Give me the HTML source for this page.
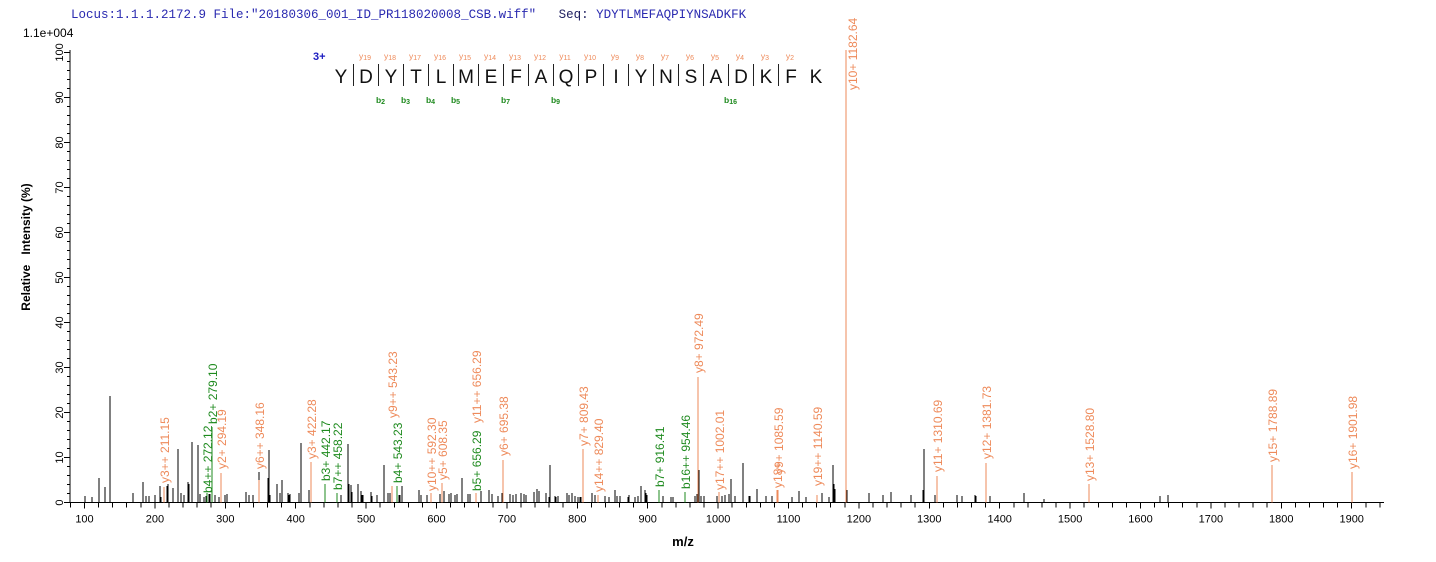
<!DOCTYPE html>
<html><head><meta charset="utf-8"><style>
body{margin:0;background:#fff;}
svg{display:block;font-family:"Liberation Sans",Arial,sans-serif;}
line{shape-rendering:crispEdges;}
</style></head><body>
<svg id="s" width="1436" height="562" xmlns="http://www.w3.org/2000/svg">
<text x="71" y="18" font-family="Liberation Mono,monospace" font-size="12.5" fill="#2a2ab0" xml:space="preserve">Locus:1.1.1.2172.9 File:"20180306_001_ID_PR118020008_CSB.wiff"   <tspan fill="#202060">Seq:</tspan> YDYTLMEFAQPIYNSADKFK</text>
<text x="23" y="37" font-size="12" fill="#000">1.1e+004</text>
<text transform="translate(30,247) rotate(-90)" text-anchor="middle" font-size="12" font-weight="bold" xml:space="preserve">Relative   Intensity (%)</text>
<text x="683" y="546" text-anchor="middle" font-size="13" font-weight="bold">m/z</text>
<g id="g"></g>
</svg>
<script>
var g=document.getElementById('g'),h='';
var B=502.5;
function L(x1,y1,x2,y2,c,w){h+='<line x1="'+x1+'" y1="'+y1+'" x2="'+x2+'" y2="'+y2+'" stroke="'+c+'" stroke-width="'+(w||1)+'"/>';}
L(70,50,70,B,'#000');L(70,B,1384,B,'#000');
for(var p=0;p<=100;p+=2){var y=B-p*4.5;L(p%10==0?64:67,y,70,y,'#000');
 if(p%10==0)h+='<text transform="translate(63,'+y+') rotate(-90)" text-anchor="middle" font-size="11">'+p+'</text>';}
function X(m){return 1351.7-(1900-m)*0.704;}
for(var m=80;m<=1940;m+=20){var x=X(m);L(x,B,x,B+(m%100==0?6:5),'#000');
 if(m%100==0&&m>=100)h+='<text x="'+x+'" y="'+(B+20)+'" text-anchor="middle" font-size="11">'+m+'</text>';}
var k=[[85,496],[92,497],[99,478],[105,487],[110,396],[133,493],[143,482],[146,496],[149,496],[155,495],[160,486],[161,497],[167,486],[168,484],[173,488],[178,449],[181,493],[184,495],[188,482],[189,484],[189,492],[192,442],[198,445],[200,494],[204,497],[206,496],[207,495],[209,494],[210,494],[215,495],[219,497],[225,495],[227,494],[246,492],[249,495],[253,495],[259,472],[268,478],[269,450],[270,495],[277,484],[280,493],[282,480],[288,493],[289,495],[290,494],[299,493],[301,443],[309,490],[341,495],[348,444],[349,484],[351,485],[352,492],[358,484],[361,491],[362,495],[363,495],[371,492],[372,496],[377,495],[384,465],[388,493],[390,493],[397,488],[399,495],[400,495],[402,486],[419,490],[421,495],[427,495],[440,494],[442,487],[444,491],[449,494],[451,493],[455,495],[457,494],[462,478],[468,494],[470,494],[481,491],[489,490],[492,494],[498,496],[502,493],[510,494],[513,495],[516,494],[521,493],[524,494],[526,495],[534,492],[537,489],[539,491],[546,493],[549,497],[550,465],[555,496],[556,497],[558,496],[567,493],[569,495],[572,493],[575,496],[578,497],[580,497],[581,497],[592,493],[595,495],[605,496],[609,497],[615,490],[617,496],[620,496],[628,497],[629,496],[629,495],[635,497],[638,496],[641,486],[645,490],[646,493],[647,495],[663,496],[671,497],[673,497],[695,496],[697,494],[699,470],[701,496],[704,496],[717,496],[722,496],[725,495],[729,494],[731,479],[735,496],[743,463],[749,496],[750,496],[757,489],[766,496],[772,496],[777,490],[792,497],[799,491],[806,497],[822,493],[829,497],[833,465],[834,484],[835,489],[847,490],[869,493],[883,495],[891,492],[911,495],[923,490],[924,449],[935,495],[957,495],[962,496],[975,495],[976,496],[990,496],[1024,493],[1044,499],[1160,496],[1168,495]];
k.forEach(function(a){L(a[0],B,a[0],a[1],'#000');});
var O='#ee8a5a',G='#1e8a1e';
var q=[[164,487,'y3++ 211.15',O,483],[207,493,'b4++ 272.12',G,493],[212,427,'b2+ 279.10',G,424],[221,473,'y2+ 294.19',O,469],[259,480,'y6++ 348.16',O,469],[311,462,'y3+ 422.28',O,459],[325,484,'b3+ 442.17',G,481],[337,493,'b7++ 458.22',G,490],[397,486,'b4+ 543.23',G,483],[392,486,'y9++ 543.23',O,418],[431,493,'y10++ 592.30',O,491],[442,483,'y5+ 608.35',O,480],[476,493,'b5+ 656.29',G,491],[476,493,'y11++ 656.29',O,423],[503,460,'y6+ 695.38',O,456],[583,449,'y7+ 809.43',O,446],[598,495,'y14++ 829.40',O,492],[659,490,'b7+ 916.41',G,487],[685,492,'b16++ 954.46',G,489],[698,377,'y8+ 972.49',O,373],[719,492,'y17++ 1002.01',O,490],[777,490,'y18+',O,488],[778,490,'y9+ 1085.59',O,474],[817,495,'y19++ 1140.59',O,486],[937,476,'y11+ 1310.69',O,472],[986,463,'y12+ 1381.73',O,459],[1089,484,'y13+ 1528.80',O,481],[1272,465,'y15+ 1788.89',O,462],[1352,472,'y16+ 1901.98',O,469]];
q.forEach(function(a){L(a[0],B,a[0],a[1],a[3]);
 h+='<text transform="translate('+(a[0]+5)+','+a[4]+') rotate(-90)" font-size="12" fill="'+a[3]+'">'+a[2]+'</text>';});
L(846,B,846,50,O);
h+='<text transform="translate(857,90) rotate(-90)" font-size="12" fill="'+O+'">y10+ 1182.64</text>';
var s='YDYTLMEFAQPIYNSADKFK',x0=341,dx=25;
h+='<text x="313" y="60" font-size="11" font-weight="bold" fill="#1a1ac0">3+</text>';
for(var i=0;i<s.length;i++){var cx=x0+i*dx;
 h+='<text x="'+cx+'" y="83" text-anchor="middle" font-size="19" fill="#111">'+s[i]+'</text>';
 if(i>0&&i<19)h+='<text x="'+(cx-1)+'" y="59" text-anchor="middle" font-size="8.5" fill="'+O+'">y<tspan font-size="7" dy="1">'+(20-i)+'</tspan></text>';}
for(var i=1;i<19;i++){var bx=x0+i*dx-12.5;L(bx,64,bx,86,'#222',0.8);}
[1,2,3,4,6,8,15].forEach(function(i){var bx=x0+i*dx+12.5;
 h+='<text x="'+(bx+2)+'" y="103" text-anchor="middle" font-size="8.5" font-weight="bold" fill="'+G+'">b<tspan font-size="7" dy="1">'+(i+1)+'</tspan></text>';});
g.innerHTML=h;
</script>
</body></html>
